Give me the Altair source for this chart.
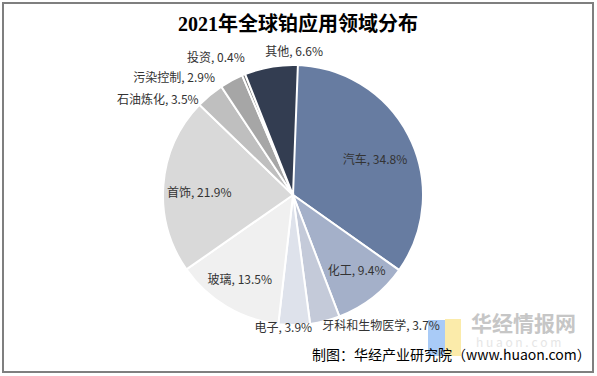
import altair as alt
import pandas as pd

# ---- data ----
categories = ["汽车", "化工", "牙科和生物医学", "电子", "玻璃", "首饰", "石油炼化", "污染控制", "投资", "其他"]
shares = [34.8, 9.4, 3.7, 3.9, 13.5, 21.9, 3.5, 2.9, 0.4, 6.6]
colors = ["#677CA1", "#A4B0C9", "#C4CAD9", "#DEE2EB", "#F0F0F0",
          "#D9D9D9", "#BFBFBF", "#A6A6A6", "#808080", "#333D51"]

title_text = "2021年全球铂应用领域分布"
source_text = "制图：华经产业研究院（www.huaon.com）"

# label placement styles: (radius, align, dx, dy)
label_style = {
    "汽车": (89, "center", 3, 6),
    "化工": (99, "center", 3, -2),
    "玻璃": (100, "center", -2, -1),
    "首饰": (94, "center", 0, 5),
    "牙科和生物医学": (135, "left", -4, 0),
    "电子": (135, "center", -11, -2),
    "石油炼化": (135, "right", -8, 9),
    "污染控制": (135, "right", -14, 2),
    "投资": (135, "right", 3, -12),
    "其他": (135, "left", -5, -10),
}

df = pd.DataFrame({"cat": categories, "share": shares, "ord": list(range(len(categories)))})
df["label"] = [f"{c}, {v}%" for c, v in zip(categories, shares)]

CX, CY, R = 293, 195, 130
FONT = "Noto Sans CJK SC"

theta_scale = alt.Scale(domain=[0, 100])

base = alt.Chart(df).transform_window(
    cum="sum(share)", sort=[alt.SortField("ord")], frame=[None, 0]
).transform_calculate(
    start="datum.cum - datum.share",
    mid="datum.cum - datum.share / 2",
)

pie = base.mark_arc(outerRadius=R, stroke="white", strokeWidth=2).encode(
    theta=alt.Theta("start:Q", scale=theta_scale, stack=None),
    theta2="cum:Q",
    color=alt.Color("cat:N", scale=alt.Scale(domain=categories, range=colors), legend=None),
    x=alt.value(CX),
    y=alt.value(CY),
)

labels = []
for cat, (r, align, dx, dy) in label_style.items():
    labels.append(
        base.transform_filter(alt.datum.cat == cat).mark_text(
            radius=r, align=align, baseline="middle", dx=dx, dy=dy,
            font=FONT, fontSize=12, color="#333333",
        ).encode(
            theta=alt.Theta("mid:Q", scale=theta_scale, stack=None),
            text="label:N",
            x=alt.value(CX),
            y=alt.value(CY),
        )
    )

one = pd.DataFrame({"t": [title_text], "s": [source_text], "w": ["华经情报网"], "h": ["h u a o n . c o m"]})
deco = alt.Chart(one)

frame = deco.mark_rect(fill=None, stroke="#7F7F7F", strokeWidth=2).encode(
    x=alt.value(3), x2=alt.value(593), y=alt.value(3), y2=alt.value(372)
)
title = deco.mark_text(font="Liberation Serif, " + FONT, fontSize=20, fontWeight="bold",
                       color="#000000", align="center", baseline="middle").encode(
    text="t:N", x=alt.value(298), y=alt.value(25)
)
logo_b = deco.mark_rect(fill="#A9CBF7").encode(
    x=alt.value(428), x2=alt.value(445), y=alt.value(320), y2=alt.value(356)
)
logo_y = deco.mark_rect(fill="#FBEBAA").encode(
    x=alt.value(445), x2=alt.value(461), y=alt.value(319), y2=alt.value(356)
)
wm = deco.mark_text(font=FONT, fontSize=21, fontWeight="bold", color="#C6C6C6",
                    align="left", baseline="middle").encode(
    text="w:N", x=alt.value(471), y=alt.value(325)
)
wm2 = deco.mark_text(font=FONT, fontSize=12, color="#E6E6E6", align="left",
                     baseline="middle").encode(
    text="h:N", x=alt.value(476), y=alt.value(343)
)
source = deco.mark_text(font=FONT, fontSize=14, color="#000000", align="left",
                        baseline="middle").encode(
    text="s:N", x=alt.value(312), y=alt.value(356)
)

chart = alt.layer(frame, logo_b, logo_y, wm, wm2, pie, *labels, title, source).properties(
    width=597, height=376, padding=0, autosize="none", background="white"
).configure_view(stroke=None)

chart.save("out.html", embed_options={"renderer": "svg", "actions": False})
